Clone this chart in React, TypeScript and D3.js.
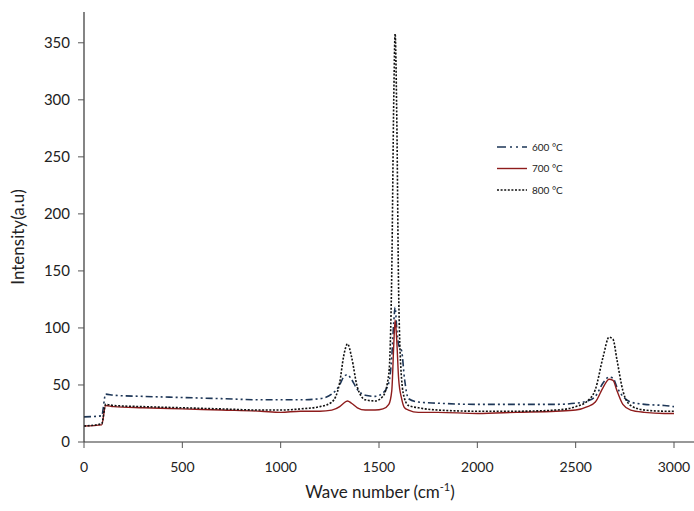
import * as d3 from "d3";
import React, { useEffect, useRef } from "react";

// wave numbers (cm-1) shared by all three spectra
const waveNumbers = [0, 90, 110, 150, 300, 500, 700, 900, 1000, 1100, 1200, 1260, 1300, 1320, 1340, 1360, 1390, 1430, 1480, 1520, 1550, 1565, 1575, 1582, 1590, 1600, 1615, 1630, 1650, 1700, 1800, 2000, 2200, 2400, 2500, 2560, 2600, 2640, 2670, 2690, 2710, 2740, 2780, 2850, 2950, 3000];

const s600 = [22, 23, 42, 41, 40, 39, 38, 37, 37, 37, 38, 42, 50, 57, 59, 55, 46, 41, 40, 43, 52, 75, 105, 118, 100, 85, 80, 55, 38, 35, 34, 33, 33, 33, 34, 36, 40, 52, 57, 56, 48, 40, 35, 33, 32, 31];
const s700 = [14, 15, 32, 31, 30, 29, 28, 27, 26, 27, 27, 28, 31, 34, 36, 34, 30, 28, 28, 29, 33, 45, 85, 107, 90, 55, 38, 30, 28, 26, 26, 25, 26, 27, 28, 31, 35, 48, 55, 54, 45, 33, 28, 26, 25, 25];
const s800 = [14, 16, 33, 32, 31, 30, 29, 28, 28, 29, 31, 35, 52, 75, 86, 75, 48, 37, 36, 40, 60, 150, 300, 358, 290, 130, 55, 38, 32, 30, 28, 27, 27, 28, 31, 36, 46, 75, 92, 90, 72, 45, 32, 28, 27, 27];

const seriesNames = ["600 °C", "700 °C", "800 °C"];
const xTicks = [0, 500, 1000, 1500, 2000, 2500, 3000];
const yTicks = [0, 50, 100, 150, 200, 250, 300, 350];

const W = 694;
const H = 511;
const margin = { top: 12, right: 0, bottom: 69, left: 84 };

export default function App() {
  const ref = useRef<SVGSVGElement>(null);

  useEffect(() => {
    const svg = d3.select(ref.current);
    svg.selectAll("*").remove();
    const font = "Lato, 'Open Sans', sans-serif";

    const x = d3.scaleLinear().domain([0, 3000]).range([margin.left, 674]);
    const y = d3.scaleLinear().domain([0, 377]).range([H - margin.bottom, margin.top]);

    const styles = [
      { color: "#1d3657", dash: "7,3,2,3,2,3", width: 1.6 },
      { color: "#8e1c1c", dash: null, width: 1.4 },
      { color: "#111111", dash: "2,1.6", width: 1.6 },
    ];
    const data = [s600, s700, s800];

    const line = d3
      .line<number>()
      .x((_, i) => x(waveNumbers[i]))
      .y((d) => y(d))
      .curve(d3.curveMonotoneX);

    data.forEach((vals, k) => {
      svg
        .append("path")
        .attr("d", line(vals))
        .attr("fill", "none")
        .attr("stroke", styles[k].color)
        .attr("stroke-width", styles[k].width)
        .attr("stroke-dasharray", styles[k].dash);
    });

    // y axis
    const yAxis = svg.append("g").attr("transform", `translate(${margin.left},0)`);
    yAxis
      .append("line")
      .attr("x1", 0).attr("x2", 0)
      .attr("y1", margin.top).attr("y2", y(0))
      .attr("stroke", "#333").attr("stroke-width", 1.2);
    yTicks.forEach((t) => {
      yAxis.append("line").attr("x1", -6).attr("x2", 0).attr("y1", y(t)).attr("y2", y(t)).attr("stroke", "#555");
      yAxis
        .append("text")
        .attr("x", -14)
        .attr("y", y(t))
        .attr("dy", "0.35em")
        .attr("text-anchor", "end")
        .attr("font-family", font)
        .attr("font-size", 15)
        .attr("fill", "#222")
        .text(t);
    });

    // x axis
    const xAxis = svg.append("g").attr("transform", `translate(0,${y(0)})`);
    xAxis
      .append("line")
      .attr("x1", margin.left).attr("x2", W)
      .attr("y1", 0).attr("y2", 0)
      .attr("stroke", "#333").attr("stroke-width", 1.2);
    xTicks.forEach((t) => {
      xAxis.append("line").attr("x1", x(t)).attr("x2", x(t)).attr("y1", 0).attr("y2", 6).attr("stroke", "#555");
      xAxis
        .append("text")
        .attr("x", x(t))
        .attr("y", 30)
        .attr("text-anchor", "middle")
        .attr("font-family", font)
        .attr("font-size", 14)
        .attr("fill", "#222")
        .text(t);
    });

    // axis titles
    svg
      .append("text")
      .attr("transform", `translate(24,${(margin.top + y(0)) / 2 + 10}) rotate(-90)`)
      .attr("text-anchor", "middle")
      .attr("font-family", font)
      .attr("font-size", 17)
      .attr("fill", "#222")
      .text("Intensity(a.u)");

    const xt = svg
      .append("text")
      .attr("x", 380)
      .attr("y", 498)
      .attr("text-anchor", "middle")
      .attr("font-family", font)
      .attr("font-size", 17)
      .attr("fill", "#222");
    xt.append("tspan").text("Wave number (cm");
    xt.append("tspan").attr("font-size", 11).attr("dy", -7).text("-1");
    xt.append("tspan").attr("dy", 7).text(")");

    // legend
    const lg = svg.append("g").attr("transform", "translate(497,147)");
    seriesNames.forEach((name, k) => {
      const yy = k * 21.5;
      lg.append("line")
        .attr("x1", 0).attr("x2", 30)
        .attr("y1", yy).attr("y2", yy)
        .attr("stroke", styles[k].color)
        .attr("stroke-width", styles[k].width)
        .attr("stroke-dasharray", k === 0 ? "9,4,2,4,2,4" : styles[k].dash);
      lg.append("text")
        .attr("x", 35)
        .attr("y", yy)
        .attr("dy", "0.35em")
        .attr("font-family", font)
        .attr("font-size", 10)
        .attr("fill", "#222")
        .text(name);
    });
  }, []);

  return (
    <div style={{ position: "fixed", left: 0, top: 0, width: W, height: H, overflow: "hidden", background: "#fff" }}>
      <svg ref={ref} width={W} height={H} style={{ display: "block" }} />
    </div>
  );
}
